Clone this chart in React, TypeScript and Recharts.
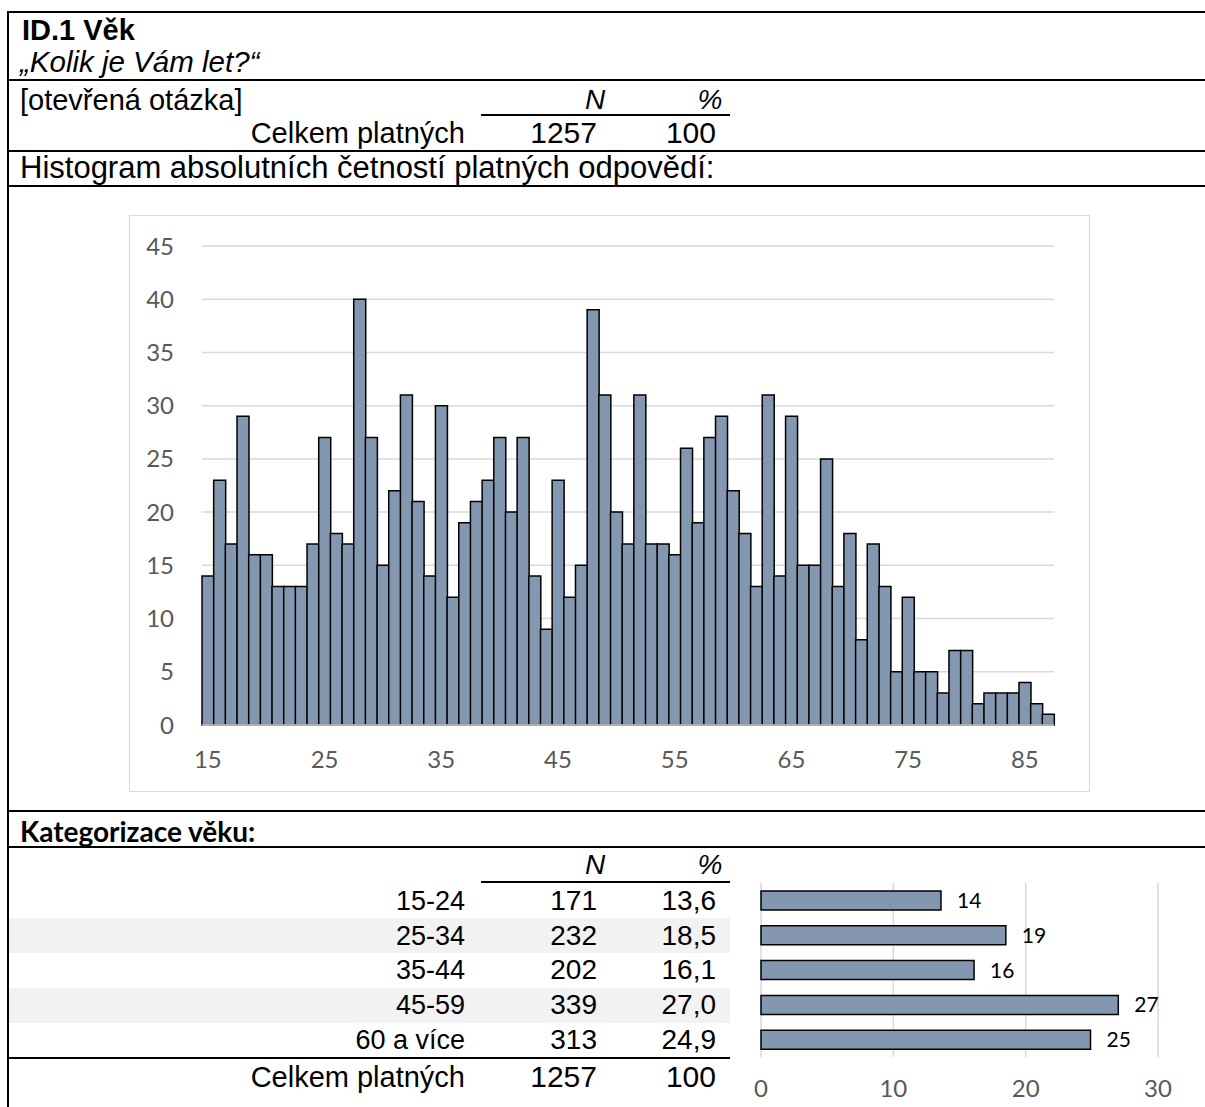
import React from "react";
import { BarChart, Bar, XAxis, YAxis, CartesianGrid, LabelList } from "recharts";

const AGES = [
  15, 16, 17, 18, 19, 20, 21, 22, 23, 24, 25, 26, 27, 28, 29, 30, 31, 32, 33, 34,
  35, 36, 37, 38, 39, 40, 41, 42, 43, 44, 45, 46, 47, 48, 49, 50, 51, 52, 53, 54,
  55, 56, 57, 58, 59, 60, 61, 62, 63, 64, 65, 66, 67, 68, 69, 70, 71, 72, 73, 74,
  75, 76, 77, 78, 79, 80, 81, 82, 83, 84, 85, 86, 87,
];
const COUNTS = [
  14, 23, 17, 29, 16, 16, 13, 13, 13, 17, 27, 18, 17, 40, 27, 15, 22, 31, 21, 14,
  30, 12, 19, 21, 23, 27, 20, 27, 14, 9, 23, 12, 15, 39, 31, 20, 17, 31, 17, 17,
  16, 26, 19, 27, 29, 22, 18, 13, 31, 14, 29, 15, 15, 25, 13, 18, 8, 17, 13, 5,
  12, 5, 5, 3, 7, 7, 2, 3, 3, 3, 4, 2, 1,
];
const Y_TICKS = [0, 5, 10, 15, 20, 25, 30, 35, 40, 45];

const CAT_LABELS = ["15-24", "25-34", "35-44", "45-59", "60 a více"];
const CAT_N = [171, 232, 202, 339, 313];
const CAT_PCT = [13.6, 18.5, 16.1, 27.0, 24.9];
const PCT_TICKS = [0, 10, 20, 30];

const TOTAL_N = 1257;

const histData = AGES.map((age, i) => ({ age, count: COUNTS[i] }));
const catData = CAT_LABELS.map((name, i) => ({ name, pct: CAT_PCT[i] }));

const ARIAL = "'Liberation Sans', Arial, sans-serif";
const CALIBRI = "Lato, 'Open Sans', sans-serif";
const BAR_FILL = "#8497B0";

function Txt({ x, y, anchor = "start", size = 27, bold = false, italic = false, family = ARIAL, children }: any) {
  const shift = anchor === "end" ? "translateX(-100%)" : anchor === "middle" ? "translateX(-50%)" : "none";
  return (
    <div
      style={{
        position: "absolute",
        left: x,
        top: y - size * 0.6,
        lineHeight: `${size * 1.2}px`,
        fontSize: size,
        fontFamily: family,
        fontWeight: bold ? 700 : 400,
        fontStyle: italic ? "italic" : "normal",
        whiteSpace: "nowrap",
        transform: shift,
        color: "#000",
      }}
    >
      {children}
    </div>
  );
}

function HLine({ x1, x2, y, w = 2 }: any) {
  return <div style={{ position: "absolute", left: x1, top: y - w / 2, width: x2 - x1, height: w, background: "#000" }} />;
}

const fmtPct = (v: number) => v.toFixed(1).replace(".", ",");

export default function App() {
  const rowY = [901, 936, 970, 1005, 1040];
  return (
    <div style={{ position: "absolute", left: 0, top: 0, width: 1205, height: 1107, background: "#fff", overflow: "hidden" }}>
      {/* frame */}
      <div style={{ position: "absolute", left: 7, top: 11, width: 2, height: 1096, background: "#000" }} />
      <HLine x1={7} x2={1205} y={12} />
      <HLine x1={7} x2={1205} y={80} />
      <HLine x1={7} x2={1205} y={151} />
      <HLine x1={7} x2={1205} y={186} />
      <HLine x1={7} x2={1205} y={811} />
      <HLine x1={7} x2={1205} y={847} w={1.5} />

      {/* header */}
      <Txt x={22} y={30} bold size={29}>ID.1 Věk</Txt>
      <Txt x={20} y={62} italic size={29.5}>„Kolik je Vám let?“</Txt>
      <Txt x={20} y={100} size={29}>[otevřená otázka]</Txt>
      <Txt x={595} y={100} anchor="middle" italic size={28}>N</Txt>
      <Txt x={710} y={100} anchor="middle" italic size={28}>%</Txt>
      <HLine x1={481} x2={730} y={115} />
      <Txt x={465} y={133} anchor="end" size={29}>Celkem platných</Txt>
      <Txt x={597} y={133} anchor="end" size={30}>{TOTAL_N}</Txt>
      <Txt x={716} y={133} anchor="end" size={30}>100</Txt>
      <Txt x={20} y={168} size={31}>Histogram absolutních četností platných odpovědí:</Txt>

      {/* histogram */}
      <div
        style={{
          position: "absolute",
          left: 129,
          top: 215,
          width: 961,
          height: 577,
          border: "1px solid #d9d9d9",
          boxSizing: "border-box",
          background: "#fff",
        }}
      >
        <BarChart width={959} height={575} data={histData} margin={{ top: 30, right: 35, bottom: 0, left: 0 }} barCategoryGap={0}>
          <CartesianGrid vertical={false} stroke="#d9d9d9" strokeWidth={1.5} />
          <XAxis
            dataKey="age"
            interval={9}
            height={66}
            tickLine={false}
            tickSize={0}
            tickMargin={26}
            axisLine={{ stroke: "#d9d9d9", strokeWidth: 1.5 }}
            tick={{ fill: "#595959", fontSize: 24, fontFamily: CALIBRI }}
          />
          <YAxis
            domain={[0, 45]}
            ticks={Y_TICKS}
            width={72}
            axisLine={false}
            tickLine={false}
            tickSize={0}
            tickMargin={28}
            tick={{ fill: "#595959", fontSize: 24, fontFamily: CALIBRI }}
          />
          <Bar dataKey="count" fill={BAR_FILL} stroke="#000" strokeWidth={1.5} isAnimationActive={false} />
        </BarChart>
      </div>

      {/* categorisation table */}
      <Txt x={20} y={832} bold size={28} family={CALIBRI}>Kategorizace věku:</Txt>
      <Txt x={595} y={865} anchor="middle" italic size={28}>N</Txt>
      <Txt x={710} y={865} anchor="middle" italic size={28}>%</Txt>
      <div style={{ position: "absolute", left: 9, top: 918, width: 721, height: 35, background: "#f2f2f2" }} />
      <div style={{ position: "absolute", left: 9, top: 988, width: 721, height: 35, background: "#f2f2f2" }} />
      <HLine x1={481} x2={730} y={882} />
      {CAT_LABELS.map((lab, i) => (
        <React.Fragment key={lab}>
          <Txt x={465} y={rowY[i]} anchor="end">{lab}</Txt>
          <Txt x={597} y={rowY[i]} anchor="end" size={28}>{CAT_N[i]}</Txt>
          <Txt x={716} y={rowY[i]} anchor="end" size={28}>{fmtPct(CAT_PCT[i])}</Txt>
        </React.Fragment>
      ))}
      <HLine x1={9} x2={730} y={1058} />
      <Txt x={465} y={1077} anchor="end" size={29}>Celkem platných</Txt>
      <Txt x={597} y={1077} anchor="end" size={30}>{TOTAL_N}</Txt>
      <Txt x={716} y={1077} anchor="end" size={30}>100</Txt>

      {/* percentage bars */}
      <div style={{ position: "absolute", left: 740, top: 870 }}>
        <BarChart
          width={465}
          height={237}
          data={catData}
          layout="vertical"
          margin={{ top: 13, right: 47, bottom: 0, left: 21 }}
          barCategoryGap="23%"
        >
          <CartesianGrid horizontal={false} stroke="#d9d9d9" strokeWidth={1.5} />
          <XAxis
            type="number"
            domain={[0, 30]}
            ticks={PCT_TICKS}
            height={50}
            axisLine={false}
            tickLine={false}
            tickSize={0}
            tickMargin={23}
            tick={{ fill: "#595959", fontSize: 24, fontFamily: CALIBRI }}
          />
          <YAxis type="category" dataKey="name" hide />
          <Bar dataKey="pct" fill={BAR_FILL} stroke="#000" strokeWidth={1.5} isAnimationActive={false}>
            <LabelList
              dataKey="pct"
              position="right"
              offset={16}
              formatter={(v: any) => Math.round(Number(v))}
              style={{ fill: "#000", fontSize: 21, fontFamily: CALIBRI }}
            />
          </Bar>
        </BarChart>
      </div>
    </div>
  );
}
